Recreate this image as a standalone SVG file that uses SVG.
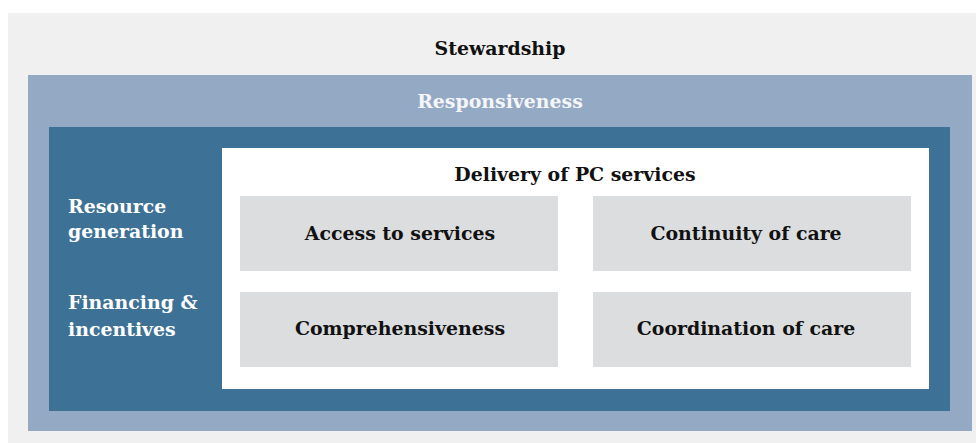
<svg xmlns="http://www.w3.org/2000/svg" width="976" height="443" viewBox="0 0 976 443">
<style>
text{font-family:"DejaVu Serif","Liberation Serif",serif;font-weight:bold;font-size:18.9px}
.d{fill:#111}
.w{fill:#fff}
.c{text-anchor:middle}
.cell{fill:#dcdddf}
</style>
<rect width="976" height="443" fill="#fff"/>
<g id="stewardship">
<rect x="8" y="13" width="968" height="430" fill="#f0f0f0"/>
<text class="d c" x="500" y="55">Stewardship</text>
</g>
<g id="responsiveness">
<rect x="28" y="75" width="944" height="356" fill="#94a9c3"/>
<text class="w c" x="500" y="108" style="fill:#f4f6f9">Responsiveness</text>
</g>
<g id="functions">
<rect x="49" y="127" width="901" height="284" fill="#3d7196"/>
<text class="w" x="68" y="213">Resource</text>
<text class="w" x="68" y="238">generation</text>
<text class="w" x="68" y="309">Financing &amp;</text>
<text class="w" x="68" y="336">incentives</text>
</g>
<g id="delivery">
<rect x="222" y="148" width="707" height="241" fill="#fff"/>
<text class="d c" x="575" y="181">Delivery of PC services</text>
</g>
<g id="access">
<rect class="cell" x="240" y="196" width="318" height="75"/>
<text class="d c" x="400" y="240">Access to services</text>
</g>
<g id="continuity">
<rect class="cell" x="593" y="196" width="318" height="75"/>
<text class="d c" x="746" y="240">Continuity of care</text>
</g>
<g id="comprehensiveness">
<rect class="cell" x="240" y="292" width="318" height="75"/>
<text class="d c" x="400" y="335">Comprehensiveness</text>
</g>
<g id="coordination">
<rect class="cell" x="593" y="292" width="318" height="75"/>
<text class="d c" x="746" y="335">Coordination of care</text>
</g>
<g id="connectors"></g>
</svg>
